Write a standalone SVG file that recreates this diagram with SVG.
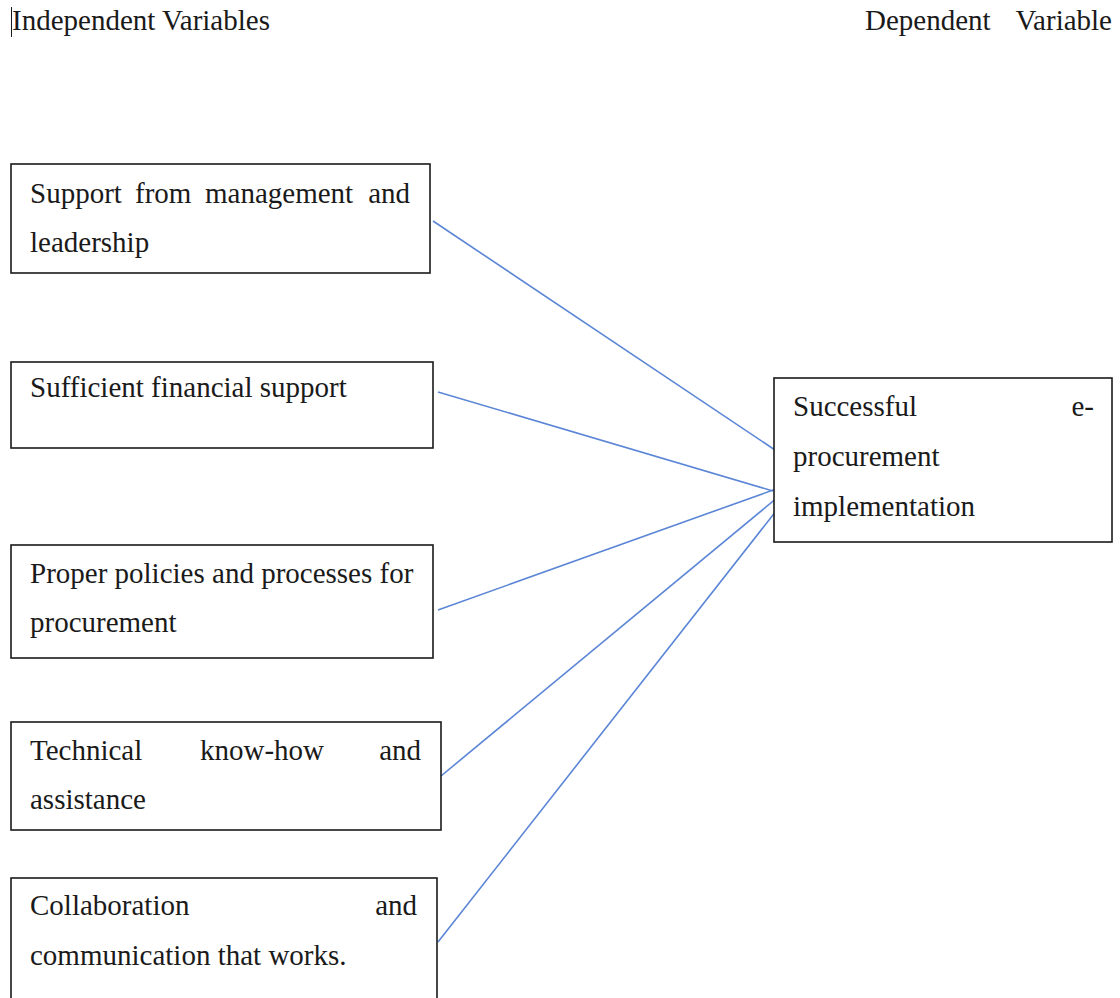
<svg xmlns="http://www.w3.org/2000/svg" width="1120" height="998" viewBox="0 0 1120 998">
<style>
text{font-family:"Liberation Serif","Times New Roman",serif;font-size:29px;fill:#1a1a1a}
.box{fill:#fff;stroke:#1a1a1a;stroke-width:1.6}
.con{stroke:#5b86d6;stroke-width:1.6;fill:none}
</style>
<rect width="1120" height="998" fill="#fff"/>
<line x1="11.5" y1="7" x2="11.5" y2="37" stroke="#1a1a1a" stroke-width="1"/>
<text x="12" y="30">Independent Variables</text>
<text x="865" y="30">Dependent</text>
<text x="1112" y="30" text-anchor="end">Variable</text>
<g id="connectors">
<line class="con" x1="433" y1="221" x2="775" y2="450"/>
<line class="con" x1="438" y1="392" x2="773" y2="491"/>
<line class="con" x1="438" y1="610" x2="776" y2="489"/>
<line class="con" x1="441" y1="776" x2="778" y2="497"/>
<line class="con" x1="438" y1="942" x2="780" y2="506"/>
</g>
<g id="n1">
<rect class="box" x="11" y="164" width="419" height="109"/>
<text x="30" y="203">Support</text><text x="135" y="203">from</text><text x="205" y="203">management</text><text x="410" y="203" text-anchor="end">and</text>
<text x="30" y="252">leadership</text>
</g>
<g id="n2">
<rect class="box" x="11" y="362" width="422" height="86"/>
<text x="30" y="397">Sufficient financial support</text>
</g>
<g id="n3">
<rect class="box" x="11" y="545" width="422" height="113"/>
<text x="30" y="583">Proper policies and processes for</text>
<text x="30" y="632">procurement</text>
</g>
<g id="n4">
<rect class="box" x="11" y="722" width="430" height="108"/>
<text x="30" y="760">Technical</text><text x="200" y="760">know-how</text><text x="421" y="760" text-anchor="end">and</text>
<text x="30" y="809">assistance</text>
</g>
<g id="n5">
<rect class="box" x="11" y="878" width="426" height="140"/>
<text x="30" y="915">Collaboration</text><text x="417" y="915" text-anchor="end">and</text>
<text x="30" y="965">communication that works.</text>
</g>
<g id="n6">
<rect class="box" x="774" y="378" width="338" height="164"/>
<text x="793" y="416">Successful</text><text x="1094" y="416" text-anchor="end">e-</text>
<text x="793" y="466">procurement</text>
<text x="793" y="516">implementation</text>
</g>
</svg>
